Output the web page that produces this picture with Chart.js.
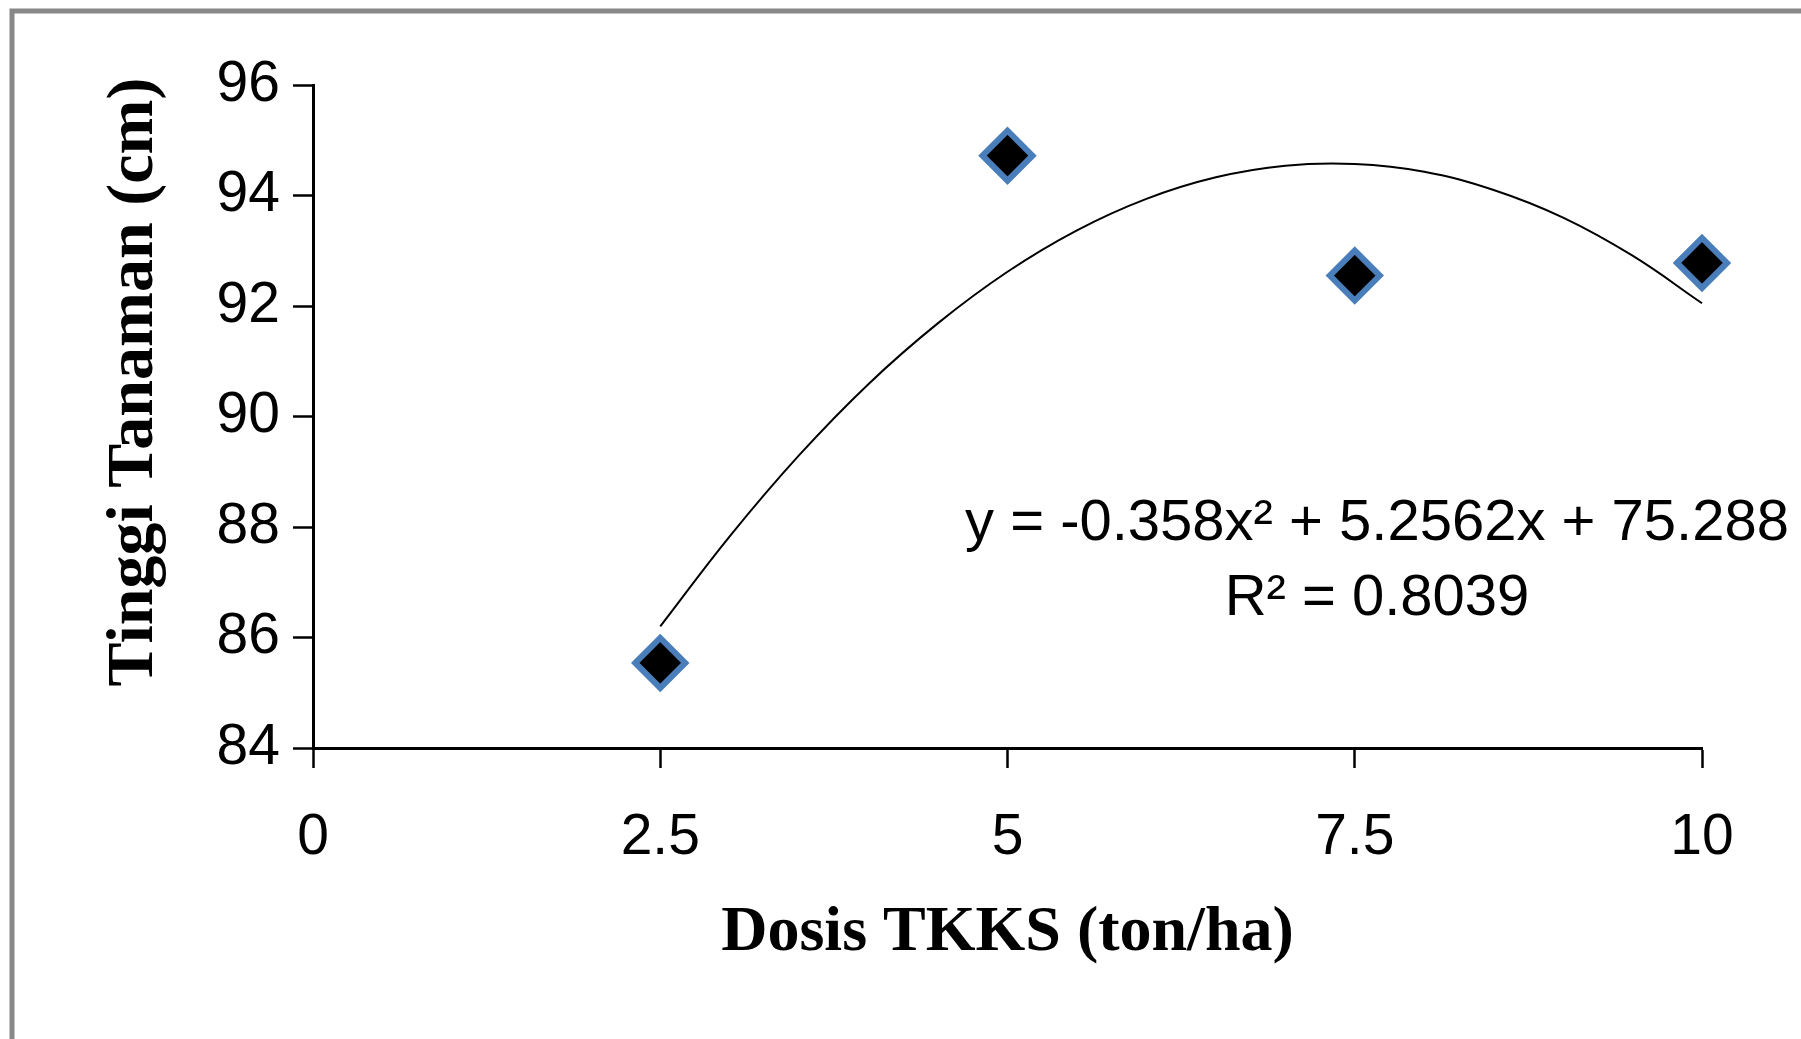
<!DOCTYPE html>
<html>
<head>
<meta charset="utf-8">
<script src="https://cdn.jsdelivr.net/npm/chart.js@4/dist/chart.umd.min.js"></script>
<style>
  html, body { margin: 0; padding: 0; background: #ffffff; }
  canvas { display: block; }
</style>
</head>
<body>
<canvas id="c" width="1801" height="1039"></canvas>
<script>
// ---- data ----
const doseX = [2.5, 5, 7.5, 10];                 // Dosis TKKS (ton/ha)
const heightY = [85.54, 94.72, 92.55, 92.78];    // Tinggi Tanaman (cm)

// polynomial trendline as drawn in the reference
const trendX = [2.5, 3, 3.5, 4, 4.5, 5, 5.5, 6, 6.5, 7, 7.5, 8, 8.5, 9, 9.5, 10];
const trendY = [86.2, 87.83, 89.3, 90.59, 91.69, 92.62, 93.37, 93.94, 94.33, 94.54, 94.57, 94.43, 94.1, 93.6, 92.91, 92.05];

const xTickValues = [0, 2.5, 5, 7.5, 10];
const xTickLabels = ['0', '2.5', '5', '7.5', '10'];
const yTickLabels = ['84', '86', '88', '90', '92', '94', '96'];

const xTitle = 'Dosis TKKS (ton/ha)';
const yTitle = 'Tinggi Tanaman (cm)';
const equationLines = ['y = -0.358x\u00B2 + 5.2562x + 75.288', 'R\u00B2 = 0.8039'];

const toPts = (xs, ys) => xs.map((x, i) => ({ x: x, y: ys[i] }));

const decor = {
  id: 'decor',
  beforeDraw(chart) {
    const ctx = chart.ctx;
    ctx.save();
    ctx.fillStyle = '#ffffff';
    ctx.fillRect(0, 0, chart.width, chart.height);
    ctx.strokeStyle = '#888888';
    ctx.lineWidth = 5;
    ctx.strokeRect(12, 11, 3000, 3000);
    ctx.restore();
  },
  afterDraw(chart) {
    const ctx = chart.ctx;
    const xs = chart.scales.x;
    ctx.save();
    ctx.fillStyle = '#000000';
    // x title
    ctx.font = 'bold 64px "Liberation Serif", "Times New Roman", serif';
    ctx.textAlign = 'center';
    ctx.textBaseline = 'alphabetic';
    ctx.fillText(xTitle, (xs.left + xs.right) / 2, 950);
    // y title (rotated)
    ctx.save();
    ctx.translate(152, 382);
    ctx.rotate(-Math.PI / 2);
    ctx.font = 'bold 66px "Liberation Serif", "Times New Roman", serif';
    ctx.fillText(yTitle, 0, 0);
    ctx.restore();
    // equation
    ctx.font = '58px "Liberation Sans", Arial, sans-serif';
    ctx.textAlign = 'center';
    ctx.fillText(equationLines[0], 1377, 540);
    ctx.fillText(equationLines[1], 1377, 615);
    ctx.restore();
  }
};

new Chart(document.getElementById('c'), {
  type: 'scatter',
  data: {
    datasets: [
      {
        type: 'line',
        label: 'Trendline',
        data: toPts(trendX, trendY),
        borderColor: '#000000',
        borderWidth: 2,
        pointRadius: 0,
        fill: false,
        tension: 0.4,
        clip: false,
        order: 1
      },
      {
        label: 'Tinggi Tanaman',
        data: toPts(doseX, heightY),
        pointStyle: 'rectRot',
        pointRadius: 25,
        pointHoverRadius: 25,
        pointBorderWidth: 6,
        borderColor: '#4A7EBB',
        backgroundColor: '#000000',
        clip: false,
        order: 2
      }
    ]
  },
  options: {
    responsive: false,
    devicePixelRatio: 1,
    animation: false,
    layout: { padding: { top: 85, right: 99, left: 0, bottom: 0 } },
    plugins: { legend: { display: false }, tooltip: { enabled: false } },
    scales: {
      x: {
        type: 'linear',
        min: 0, max: 10,
        afterFit(s) { s.height = 291; },
        afterBuildTicks(s) { s.ticks = xTickValues.map(v => ({ value: v })); },
        ticks: {
          autoSkip: false,
          maxRotation: 0,
          padding: 36,
          color: '#000000',
          font: { family: '"Liberation Sans", Arial, sans-serif', size: 57 },
          callback: (v) => { const i = xTickValues.indexOf(v); return i >= 0 ? xTickLabels[i] : ''; }
        },
        grid: { display: true, drawOnChartArea: false, drawTicks: true, tickLength: 20, tickWidth: 2.5, tickColor: '#000000' },
        border: { display: true, color: '#000000', width: 3 }
      },
      y: {
        type: 'linear',
        min: 84, max: 96,
        afterFit(s) { s.width = 313; },
        ticks: {
          stepSize: 2,
          padding: 13,
          color: '#000000',
          font: { family: '"Liberation Sans", Arial, sans-serif', size: 57 },
          callback: (v) => { const i = Math.round((v - 84) / 2); return yTickLabels[i]; }
        },
        grid: { display: true, drawOnChartArea: false, drawTicks: true, tickLength: 20, tickWidth: 2.5, tickColor: '#000000' },
        border: { display: true, color: '#000000', width: 3 }
      }
    }
  },
  plugins: [decor]
});
</script>
</body>
</html>
